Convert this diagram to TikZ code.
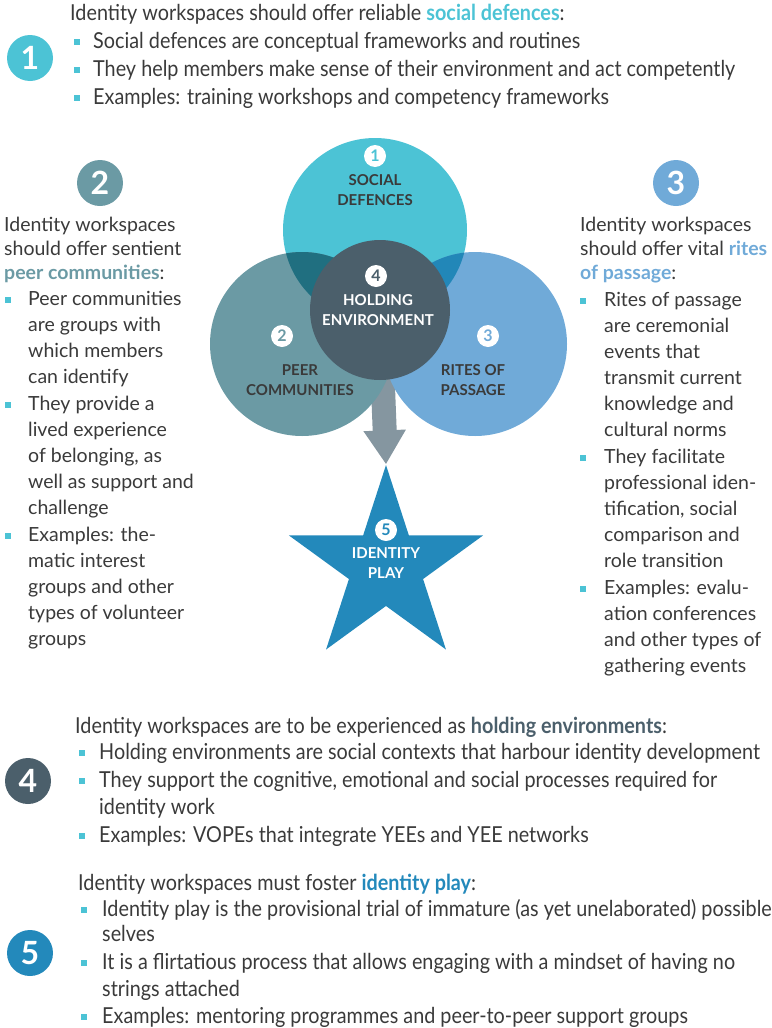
\documentclass[tikz,border=0pt]{standalone}
\usepackage{fontspec}
\setmainfont{Lato}
\newfontfamily\condfont[FakeStretch=0.9]{Lato}
\usetikzlibrary{shapes.geometric,arrows.meta,backgrounds}

\definecolor{sdcol}{HTML}{4CC3D5}
\definecolor{pccol}{HTML}{6B9AA4}
\definecolor{rpcol}{HTML}{70AAD8}
\definecolor{hecol}{HTML}{4B5F6B}
\definecolor{ipcol}{HTML}{2389BB}
\definecolor{ovlcol}{HTML}{206F80}
\definecolor{ovrcol}{HTML}{2287B8}
\definecolor{arrcol}{HTML}{8596A0}
\definecolor{txtcol}{HTML}{3A3A3A}

\newcommand{\colfont}{\fontsize{19.5}{22}\selectfont}
\newcommand{\secfont}{\condfont\fontsize{22}{26}\selectfont}

\begin{document}
\begin{tikzpicture}[x=1pt, y=-1pt,
    bigcirc/.style={circle, inner sep=0, minimum size=184},
    holdcirc/.style={circle, inner sep=0, minimum size=140},
    badge/.style={circle, inner sep=0, minimum size=46, text=white,
        font=\bfseries\fontsize{32}{32}\selectfont},
    dot/.style={circle, fill=white, inner sep=0, minimum size=22,
        font=\bfseries\fontsize{16}{16}\selectfont},
    captxt/.style={align=center, inner sep=0, text=txtcol,
        font=\bfseries\fontsize{15}{20}\selectfont},
    bul/.style={rectangle, fill=sdcol, inner sep=0, minimum size=6},
    sectxt/.style={anchor=mid west, inner sep=0, yshift=-4pt, text=txtcol, font=\secfont},
    coltxt/.style={anchor=mid west, inner sep=0, yshift=-3pt, text=txtcol, font=\colfont}]
    \useasboundingbox (0,0) rectangle (771,1028);

    % section 1
    \node[badge, fill=sdcol] (b1) at (30,58) {1};
    \node[sectxt] (h1) at (70,14) {Identity workspaces should offer reliable \textbf{\color{sdcol}social defences}:};
    \foreach \y/\t [count=\i] in {42/Social defences are conceptual frameworks and routines,
        70/They help members make sense of their environment and act competently,
        98/Examples: training workshops and competency frameworks}
        {\node[bul] (sb\i) at (77,\y) {};
         \node[sectxt] (st\i) at (93,\y) {\t};}

    % venn circles
    \node[bigcirc, fill=sdcol] (sd) at (375,230) {};
    \node[bigcirc, fill=pccol] (pc) at (302,344) {};
    \node[bigcirc, fill=rpcol] (rp) at (475,344) {};
    \begin{scope}
        \clip (sd.center) circle (92);
        \fill[ovlcol] (pc.center) circle (92);
        \fill[ovrcol] (rp.center) circle (92);
    \end{scope}
    \node[holdcirc, fill=hecol] (he) at (380,310) {};

    % star and arrow
    \node[star, star points=5, star point ratio=2.618, minimum size=204, inner sep=0, fill=ipcol] (ip) at (386,567) {};
    \begin{pgfonlayer}{background}
        \draw[arrcol, line width=24pt, -{Triangle[length=34pt, width=40pt]}] (he.center) -- (ip.north);
    \end{pgfonlayer}

    \node[dot, text=sdcol] (d1) at (375,156) {1};
    \node[captxt] (l1) at (375,190) {SOCIAL\\DEFENCES};
    \node[dot, text=hecol] (d4) at (376,276) {4};
    \node[captxt, text=white] (l4) at (378,310) {HOLDING\\ENVIRONMENT};
    \node[dot, text=pccol] (d2) at (282,336) {2};
    \node[captxt] (l2) at (300,380) {PEER\\COMMUNITIES};
    \node[dot, text=rpcol] (d3) at (488,336) {3};
    \node[captxt] (l3) at (473,380) {RITES OF\\PASSAGE};
    \node[dot, text=ipcol] (d5) at (386,530) {5};
    \node[captxt, text=white] (l5) at (386,563) {IDENTITY\\PLAY};

    % left column
    \node[badge, fill=pccol] (b2) at (100,183) {2};
    \node[coltxt] (lh1) at (4,226) {Identity workspaces};
    \node[coltxt] (lh2) at (4,250) {should offer sentient};
    \node[coltxt] (lh3) at (4,274) {\textbf{\color{pccol}peer communities}:};
    \foreach \y in {300,405,536}
        \node[bul] (lb\y) at (8,\y) {};
    \foreach \y/\t [count=\i] in {300/Peer communities, 326/are groups with, 352/which members,
        378/can identify, 405/They provide a, 431/lived experience, {457/of belonging, as},
        483/well as support and, 509/challenge, 536/Examples: the-, 562/matic interest,
        588/groups and other, 614/types of volunteer, 640/groups}
        \node[coltxt] (lt\i) at (28,\y) {\t};

    % right column
    \node[badge, fill=rpcol] (b3) at (676,183) {3};
    \node[coltxt] (rh1) at (580,226) {Identity workspaces};
    \node[coltxt] (rh2) at (580,250) {should offer vital \textbf{\color{rpcol}rites}};
    \node[coltxt] (rh3) at (580,274) {\textbf{\color{rpcol}of passage}:};
    \foreach \y in {301,458,589}
        \node[bul] (rb\y) at (583,\y) {};
    \foreach \y/\t [count=\i] in {301/Rites of passage, 327/are ceremonial, 353/events that,
        379/transmit current, 405/knowledge and, 431/cultural norms, 458/They facilitate,
        484/professional iden-, {510/tification, social}, 536/comparison and, 562/role transition,
        589/Examples: evalu-, 615/ation conferences, 641/and other types of, 667/gathering events}
        \node[coltxt] (rt\i) at (604,\y) {\t};

    % section 4
    \node[badge, fill=hecol] (b4) at (28,781) {4};
    \node[sectxt] (h4) at (75,727) {Identity workspaces are to be experienced as \textbf{\color{hecol}holding environments}:};
    \foreach \y in {753,781,836}
        \node[bul] (fb\y) at (82,\y) {};
    \foreach \y/\t [count=\i] in {753/Holding environments are social contexts that harbour identity development,
        {781/They support the cognitive, emotional and social processes required for},
        808/identity work, 836/Examples: VOPEs that integrate YEEs and YEE networks}
        \node[sectxt] (ft\i) at (99,\y) {\t};

    % section 5
    \node[badge, fill=ipcol] (b5) at (30,953) {5};
    \node[sectxt] (h5) at (78,884) {Identity workspaces must foster \textbf{\color{ipcol}identity play}:};
    \foreach \y in {910,963,1017}
        \node[bul] (pb\y) at (84,\y) {};
    \foreach \y/\t [count=\i] in {910/Identity play is the provisional trial of immature (as yet unelaborated) possible,
        935/selves, 963/It is a flirtatious process that allows engaging with a mindset of having no,
        990/strings attached, 1017/Examples: mentoring programmes and peer-to-peer support groups}
        \node[sectxt] (pt\i) at (102,\y) {\t};
\end{tikzpicture}
\end{document}
